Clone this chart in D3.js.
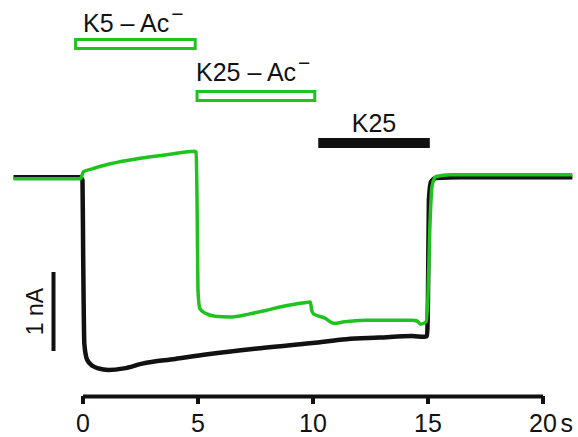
<!DOCTYPE html>
<html>
<head>
<meta charset="utf-8">
<script src="https://cdn.jsdelivr.net/npm/d3@7"></script>
<style>
  html, body { margin: 0; padding: 0; background: #fff; }
  svg { display: block; }
  text { font-family: "Liberation Sans", Arial, sans-serif; fill: #111; }
</style>
</head>
<body>
<script>
// Whole-cell current traces (time in s, current in nA, 0 = holding level)
const controlTime = [-3.0, -0.09, 0, 0.03, 0.08, 0.2, 0.45, 0.69, 1.13, 1.8, 2.6, 4.03, 5.45, 7.49, 10.0, 11.47, 12.9, 14.33, 14.85, 14.98, 15.02, 15.06, 15.15, 15.37, 16.4, 21.3];
const controlCurrent = [0.01, 0.01, -0.03, -1.0, -2.1, -2.3, -2.38, -2.41, -2.43, -2.41, -2.35, -2.29, -2.23, -2.16, -2.09, -2.04, -2.02, -2.00, -2.01, -2.00, -1.54, -0.28, -0.05, 0.0, 0.01, 0.01];

const acetateTime = [-3.0, -0.09, 0.04, 0.35, 1.21, 2.51, 3.81, 4.89, 4.94, 4.98, 5.02, 5.1, 5.32, 5.76, 6.4, 7.27, 7.92, 8.79, 9.65, 9.91, 9.96, 10.04, 10.52, 10.95, 11.39, 12.25, 13.33, 14.33, 14.55, 14.7, 14.94, 15.02, 15.1, 15.2, 15.37, 16.0, 21.3];
const acetateCurrent = [-0.01, -0.01, 0.08, 0.11, 0.18, 0.25, 0.30, 0.34, 0.33, -0.28, -1.42, -1.65, -1.71, -1.75, -1.76, -1.72, -1.68, -1.62, -1.58, -1.57, -1.67, -1.72, -1.77, -1.84, -1.82, -1.80, -1.80, -1.80, -1.81, -1.85, -1.82, -1.50, -0.65, -0.10, 0.02, 0.04, 0.04];

// Solution application periods (s)
const applications = [
  { label: "K5 \u2013 Ac", sup: "\u2212", start: -0.3, end: 4.9, style: "open" },
  { label: "K25 \u2013 Ac", sup: "\u2212", start: 4.98, end: 10.1, style: "open" },
  { label: "K25", sup: "", start: 10.25, end: 15.1, style: "filled" }
];

const xTicks = [0, 5, 10, 15, 20];
const xUnit = "s";
const scaleBarNA = 1;          // vertical calibration bar, nA
const scaleBarLabel = "1 nA";

const W = 578, H = 437;
const green = "#1ec31e";

const svg = d3.select("body").append("svg").attr("width", W).attr("height", H);

const x = d3.scaleLinear().domain([0, 20]).range([82.5, 542.5]);
const y = d3.scaleLinear().domain([0, -1]).range([178, 257]);

const line = d3.line().x(d => x(d[0])).y(d => y(d[1])).curve(d3.curveMonotoneX);

// Control (black) trace drawn first, acetate (green) on top
svg.append("path")
  .datum(d3.zip(controlTime, controlCurrent))
  .attr("d", line)
  .attr("fill", "none")
  .attr("stroke", "#111")
  .attr("stroke-width", 4.5)
  .attr("stroke-linejoin", "round");

svg.append("path")
  .datum(d3.zip(acetateTime, acetateCurrent))
  .attr("d", line)
  .attr("fill", "none")
  .attr("stroke", green)
  .attr("stroke-width", 3.5)
  .attr("stroke-linejoin", "round");

// Application bars with labels
const barRows = [
  { y: 39.5, h: 9, textY: 32, textDx: 7.5, anchor: "start" },
  { y: 91.5, h: 9, textY: 81, textDx: -1, anchor: "start" },
  { y: 138, h: 10, textY: 132, textDx: 0, anchor: "middle" }
];
applications.forEach((a, i) => {
  const row = barRows[i];
  const r = svg.append("rect")
    .attr("x", x(a.start))
    .attr("y", row.y)
    .attr("width", x(a.end) - x(a.start))
    .attr("height", row.h);
  if (a.style === "open") {
    r.attr("fill", "none").attr("stroke", green).attr("stroke-width", 3);
  } else {
    r.attr("fill", "#111");
  }
  const tx = a.style === "open" ? x(a.start) + row.textDx : (x(a.start) + x(a.end)) / 2 + row.textDx;
  const t = svg.append("text")
    .attr("x", tx)
    .attr("y", row.textY)
    .attr("text-anchor", row.anchor)
    .attr("font-size", 25);
  t.append("tspan").text(a.label);
  if (a.sup) t.append("tspan").attr("dx", 2).attr("dy", -11).attr("font-size", 21).text(a.sup);
});

// Calibration bar
const sbTop = -1.19;
svg.append("line")
  .attr("x1", 53.5).attr("x2", 53.5)
  .attr("y1", y(sbTop)).attr("y2", y(sbTop - scaleBarNA))
  .attr("stroke", "#111").attr("stroke-width", 4);
svg.append("text")
  .attr("transform", `translate(43,${(y(sbTop) + y(sbTop - scaleBarNA)) / 2}) rotate(-90)`)
  .attr("text-anchor", "middle")
  .attr("font-size", 23)
  .text(scaleBarLabel);

// Time axis
const axisY = 396;
const axis = svg.append("g")
  .attr("transform", `translate(0,${axisY})`)
  .call(d3.axisBottom(x).tickValues(xTicks).tickSize(8).tickSizeOuter(0).tickPadding(10));
axis.select(".domain").attr("stroke", "#111").attr("stroke-width", 4);
axis.selectAll(".tick line").attr("stroke", "#111").attr("stroke-width", 4);
axis.selectAll(".tick text")
  .attr("font-size", 25)
  .attr("font-family", "Liberation Sans, Arial, sans-serif")
  .attr("fill", "#111");
svg.append("text")
  .attr("x", x(20) + 18)
  .attr("y", axisY + 36)
  .attr("font-size", 25)
  .text(xUnit);
</script>
</body>
</html>
